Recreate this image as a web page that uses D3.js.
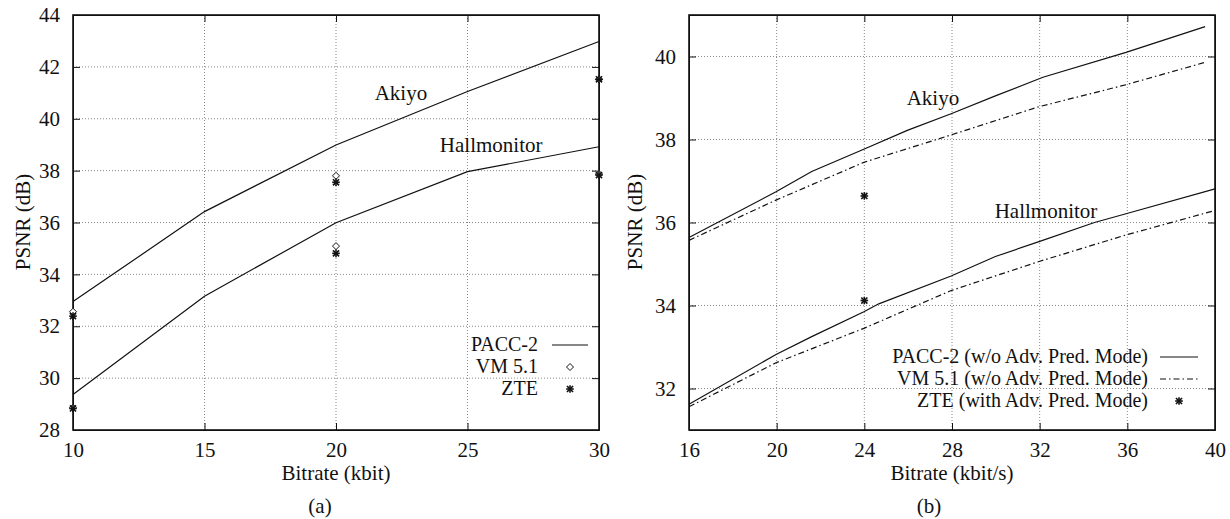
<!DOCTYPE html>
<html>
<head>
<meta charset="utf-8">
<script src="https://cdn.jsdelivr.net/npm/d3@7"></script>
<style>
  body { margin: 0; background: #fff; }
  svg text { font-family: "Liberation Serif", "DejaVu Serif", serif; fill: #111; }
  .grid line { stroke: #8a8a8a; stroke-width: 1; stroke-dasharray: 1,2; }
  .axis path, .axis line { stroke: #111; }
  .axis text { font-size: 21px; font-family: "Liberation Serif", serif; }
</style>
</head>
<body>
<div id="chart"></div>
<script>
// ---- panel (a) data ----
const bitrateA = [10, 15, 20, 25, 30];
const akiyoPaccA = [32.95, 36.42, 38.99, 41.05, 42.98];
const hallPaccA = [29.37, 33.16, 35.99, 37.96, 38.92];
const vmBitrateA = [10, 10, 20, 20, 30, 30];
const vmPsnrA = [32.56, 28.86, 37.80, 35.09, 41.52, 37.87];
const zteBitrateA = [10, 10, 20, 20, 30, 30];
const ztePsnrA = [32.39, 28.83, 37.55, 34.81, 41.52, 37.83];
const xTicksA = [10, 15, 20, 25, 30];
const yTicksA = [28, 30, 32, 34, 36, 38, 40, 42, 44];

// ---- panel (b) data ----
const akiyoPaccBx = [16, 19.97, 21.6, 24, 25.96, 27.96, 29.98, 32.15, 35.94, 39.55];
const akiyoPaccBy = [35.64, 36.74, 37.23, 37.77, 38.22, 38.62, 39.05, 39.50, 40.10, 40.72];
const akiyoVmBx = [16, 19.97, 23.98, 27.96, 31.97, 35.94, 39.55];
const akiyoVmBy = [35.57, 36.54, 37.45, 38.11, 38.79, 39.32, 39.86];
const hallPaccBx = [16, 19.97, 21.6, 23.98, 24.66, 27.96, 29.98, 31.97, 34.5, 35.94, 40];
const hallPaccBy = [31.62, 32.82, 33.25, 33.85, 34.04, 34.71, 35.18, 35.54, 36.0, 36.21, 36.81];
const hallVmBx = [16, 19.97, 23.98, 27.96, 31.97, 35.94, 40];
const hallVmBy = [31.56, 32.62, 33.45, 34.36, 35.06, 35.70, 36.29];
const zteBitrateB = [24, 24];
const ztePsnrB = [36.64, 34.12];
const xTicksB = [16, 20, 24, 28, 32, 36, 40];
const yTicksB = [32, 34, 36, 38, 40];

const zip = (xs, ys) => xs.map((x, i) => [x, ys[i]]);

const svg = d3.select("#chart").append("svg")
    .attr("width", 1230)
    .attr("height", 519);

class PsnrPlot {
    constructor(svg, cfg) {
        this.svg = svg;
        this.cfg = cfg;
        this.initVis();
    }

    initVis() {
        let vis = this;
        let c = vis.cfg;

        vis.x = d3.scaleLinear().domain(c.xDomain).range([c.left, c.right]);
        vis.y = d3.scaleLinear().domain(c.yDomain).range([430, 15]);
        vis.g = vis.svg.append("g");

        // dotted grid
        let grid = vis.g.append("g").attr("class", "grid");
        grid.selectAll(".gx")
            .data(c.xTicks.filter(d => d > c.xDomain[0] && d < c.xDomain[1]))
            .enter().append("line")
            .attr("x1", d => vis.x(d)).attr("x2", d => vis.x(d))
            .attr("y1", vis.y.range()[0]).attr("y2", vis.y.range()[1]);
        grid.selectAll(".gy")
            .data(c.yTicks.filter(d => d > c.yDomain[0] && d < c.yDomain[1]))
            .enter().append("line")
            .attr("y1", d => vis.y(d)).attr("y2", d => vis.y(d))
            .attr("x1", c.left).attr("x2", c.right);

        // axes with inward ticks on all four sides
        vis.g.append("g").attr("class", "axis")
            .attr("transform", "translate(0,430)")
            .call(d3.axisBottom(vis.x).tickValues(c.xTicks).tickSizeInner(-7).tickSizeOuter(0).tickPadding(12));
        vis.g.append("g").attr("class", "axis")
            .attr("transform", "translate(" + c.left + ",0)")
            .call(d3.axisLeft(vis.y).tickValues(c.yTicks).tickSizeInner(-7).tickSizeOuter(0).tickPadding(13));
        vis.g.append("g").attr("class", "axis")
            .attr("transform", "translate(0,15)")
            .call(d3.axisTop(vis.x).tickValues(c.xTicks).tickSizeInner(-7).tickSizeOuter(0).tickFormat(""));
        vis.g.append("g").attr("class", "axis")
            .attr("transform", "translate(" + c.right + ",0)")
            .call(d3.axisRight(vis.y).tickValues(c.yTicks).tickSizeInner(-7).tickSizeOuter(0).tickFormat(""));

        vis.g.append("rect")
            .attr("x", c.left).attr("y", 15)
            .attr("width", c.right - c.left).attr("height", 415)
            .attr("fill", "none").attr("stroke", "#111").attr("stroke-width", 1.6);

        // curves
        let line = d3.line().x(d => vis.x(d[0])).y(d => vis.y(d[1]));
        c.lines.forEach(l => {
            vis.g.append("path")
                .datum(l.data)
                .attr("d", line)
                .attr("fill", "none")
                .attr("stroke", "#111")
                .attr("stroke-width", 1.2)
                .attr("stroke-dasharray", l.dash || null);
        });

        // point markers
        c.points.forEach(p => {
            p.data.forEach(d => vis.marker(p.type, vis.x(d[0]), vis.y(d[1])));
        });

        // sequence names
        c.notes.forEach(n => {
            vis.g.append("text")
                .attr("x", vis.x(n.at[0])).attr("y", vis.y(n.at[1]))
                .attr("text-anchor", "middle")
                .style("font-size", "21px")
                .text(n.text);
        });

        // axis titles
        vis.g.append("text")
            .attr("x", (c.left + c.right) / 2).attr("y", 480)
            .attr("text-anchor", "middle").style("font-size", "21px")
            .text(c.xTitle);
        vis.g.append("text")
            .attr("transform", "translate(" + c.yTitleX + ",222) rotate(-90)")
            .attr("text-anchor", "middle").style("font-size", "21px")
            .text("PSNR (dB)");
        vis.g.append("text")
            .attr("x", c.captionX).attr("y", 513)
            .attr("text-anchor", "middle").style("font-size", "21px")
            .text(c.caption);

        // legend
        c.legend.forEach((e, i) => {
            let yy = c.legendY + i * c.legendStep;
            vis.g.append("text")
                .attr("x", c.legendTextX).attr("y", yy)
                .attr("text-anchor", "end").style("font-size", "20px")
                .text(e.label);
            let cy = yy - 6;
            if (e.type === "line") {
                vis.g.append("line")
                    .attr("x1", c.legendLine[0]).attr("x2", c.legendLine[1])
                    .attr("y1", cy).attr("y2", cy)
                    .attr("stroke", "#111").attr("stroke-width", 1.2)
                    .attr("stroke-dasharray", e.dash || null);
            } else {
                vis.marker(e.type, (c.legendLine[0] + c.legendLine[1]) / 2, cy);
            }
        });
    }

    marker(type, cx, cy) {
        let vis = this;
        if (type === "diamond") {
            let r = 3.5;
            vis.g.append("path")
                .attr("d", `M${cx},${cy - r}L${cx + r},${cy}L${cx},${cy + r}L${cx - r},${cy}Z`)
                .attr("fill", "#fff").attr("stroke", "#111").attr("stroke-width", 1);
        } else {
            let r = 3.8;
            let m = vis.g.append("g").attr("stroke", "#111").attr("stroke-width", 1.6);
            m.append("line").attr("x1", cx - r).attr("x2", cx + r).attr("y1", cy).attr("y2", cy);
            m.append("line").attr("x1", cx).attr("x2", cx).attr("y1", cy - r).attr("y2", cy + r);
            m.append("line").attr("x1", cx - r * 0.8).attr("x2", cx + r * 0.8).attr("y1", cy - r * 0.8).attr("y2", cy + r * 0.8);
            m.append("line").attr("x1", cx - r * 0.8).attr("x2", cx + r * 0.8).attr("y1", cy + r * 0.8).attr("y2", cy - r * 0.8);
        }
    }
}

const dashDot = "6,3,1.5,3";

new PsnrPlot(svg, {
    left: 73, right: 599,
    xDomain: [10, 30], yDomain: [28, 44],
    xTicks: xTicksA, yTicks: yTicksA,
    lines: [
        {data: zip(bitrateA, akiyoPaccA)},
        {data: zip(bitrateA, hallPaccA)}
    ],
    points: [
        {type: "diamond", data: zip(vmBitrateA, vmPsnrA)},
        {type: "star", data: zip(zteBitrateA, ztePsnrA)}
    ],
    notes: [
        {text: "Akiyo", at: [22.47, 40.72]},
        {text: "Hallmonitor", at: [25.9, 38.72]}
    ],
    xTitle: "Bitrate (kbit)", yTitleX: 30,
    caption: "(a)", captionX: 320,
    legend: [
        {label: "PACC-2", type: "line"},
        {label: "VM 5.1", type: "diamond"},
        {label: "ZTE", type: "star"}
    ],
    legendY: 351, legendStep: 22, legendTextX: 538, legendLine: [552, 588]
});

new PsnrPlot(svg, {
    left: 689, right: 1215,
    xDomain: [16, 40], yDomain: [31, 41],
    xTicks: xTicksB, yTicks: yTicksB,
    lines: [
        {data: zip(akiyoPaccBx, akiyoPaccBy)},
        {data: zip(akiyoVmBx, akiyoVmBy), dash: dashDot},
        {data: zip(hallPaccBx, hallPaccBy)},
        {data: zip(hallVmBx, hallVmBy), dash: dashDot}
    ],
    points: [
        {type: "star", data: zip(zteBitrateB, ztePsnrB)}
    ],
    notes: [
        {text: "Akiyo", at: [27.13, 38.83]},
        {text: "Hallmonitor", at: [32.29, 36.1]}
    ],
    xTitle: "Bitrate (kbit/s)", yTitleX: 642,
    caption: "(b)", captionX: 929,
    legend: [
        {label: "PACC-2 (w/o Adv. Pred. Mode)", type: "line"},
        {label: "VM 5.1 (w/o Adv. Pred. Mode)", type: "line", dash: dashDot},
        {label: "ZTE (with Adv. Pred. Mode)", type: "star"}
    ],
    legendY: 363, legendStep: 22, legendTextX: 1148, legendLine: [1160, 1198]
});
</script>
</body>
</html>
